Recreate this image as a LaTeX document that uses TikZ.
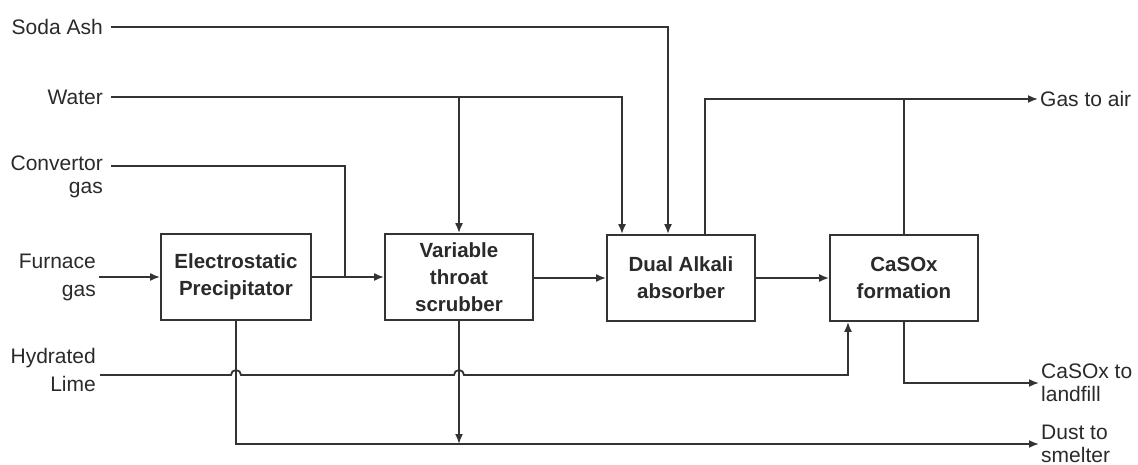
\documentclass[tikz,border=0pt]{standalone}
\usepackage{fontspec}
\setmainfont{Liberation Sans}
\usetikzlibrary{arrows.meta}
\definecolor{linec}{HTML}{333333}
\definecolor{txt}{HTML}{2A2A2A}
\begin{document}
\begin{tikzpicture}[x=1pt,y=-1pt,
  line/.style={draw=linec, line width=1.8pt},
  arr/.style={line, -{Latex[length=10pt,width=8pt]}},
  box/.style={draw=linec, line width=1.8pt, minimum width=150pt, minimum height=86pt,
    align=center, font=\bfseries\fontsize{20.5}{27}\selectfont, text=txt, inner sep=0pt},
  lab/.style={font=\fontsize{21}{24}\selectfont, text=txt, inner sep=0pt}]
\useasboundingbox[fill=white] (0,0) rectangle (1138,465);

% boxes
\node[box] (esp) at (236,277) {Electrostatic\\Precipitator};
\node[box, minimum width=148pt] (vts) at (459,277) {Variable\\throat\\scrubber};
\node[box, minimum width=148pt] (da) at (681,278) {Dual Alkali\\absorber};
\node[box, minimum width=148pt] (cas) at (904,278) {CaSOx\\formation};

% input labels
\node[lab, anchor=east] (soda) at (103,27) {Soda Ash};
\node[lab, anchor=east] (water) at (103,97) {Water};
\node[lab, anchor=east, align=right, font=\fontsize{21}{23}\selectfont] (conv) at (103,177) {Convertor\\gas};
\node[lab, anchor=east, align=right, font=\fontsize{21}{28}\selectfont] (furn) at (96,277) {Furnace\\gas};
\node[lab, anchor=east, align=right, font=\fontsize{21}{28}\selectfont] (lime) at (96,370) {Hydrated\\Lime};

% output labels
\node[lab, anchor=west] (gasair) at (1040,99) {Gas to air};
\node[lab, anchor=west, align=left, font=\fontsize{21}{23}\selectfont] (landfill) at (1041,383) {CaSOx to\\landfill};
\node[lab, anchor=west, align=left, font=\fontsize{21}{23}\selectfont] (dust) at (1041,444) {Dust to\\smelter};

% feed coordinates
\coordinate (sodaS) at (111,27);
\coordinate (waterS) at (111,97);
\coordinate (convS) at (111,166);
\coordinate (limeS) at (100,375);
\coordinate (wj) at (vts.north |- waterS);
\coordinate (cj) at (345,277);

% soda ash and water
\draw[arr] (sodaS) -| ([xshift=-13pt]da.north);
\draw[arr] (waterS) -| ([xshift=-59pt]da.north);
\draw[arr] (wj) -- (vts.north);

% gas path
\draw[line] (convS) -| (cj);
\draw[arr] ([xshift=3pt]furn.east) -- (esp.west);
\draw[arr] (esp.east) -- (vts.west);
\draw[arr] (vts.east |- da.west) -- (da.west);
\draw[arr] (da.east) -- (cas.west);

% outputs
\draw[arr, shorten >=2pt] ([xshift=24pt]da.north) |- (gasair.west);
\draw[line] (cas.north) -- (cas.north |- gasair.west);
\draw[arr, shorten >=2pt] (cas.south) |- (landfill.west);
\draw[arr, shorten >=2pt] (esp.south) |- (dust.west);
\draw[arr] (vts.south) -- (vts.south |- dust.west);

% hydrated lime with hops
\draw[arr] (limeS) -- (231,375) arc[start angle=180, end angle=360, radius=5]
  -- (454,375) arc[start angle=180, end angle=360, radius=5]
  -| ([xshift=-56pt]cas.south);
\end{tikzpicture}
\end{document}
